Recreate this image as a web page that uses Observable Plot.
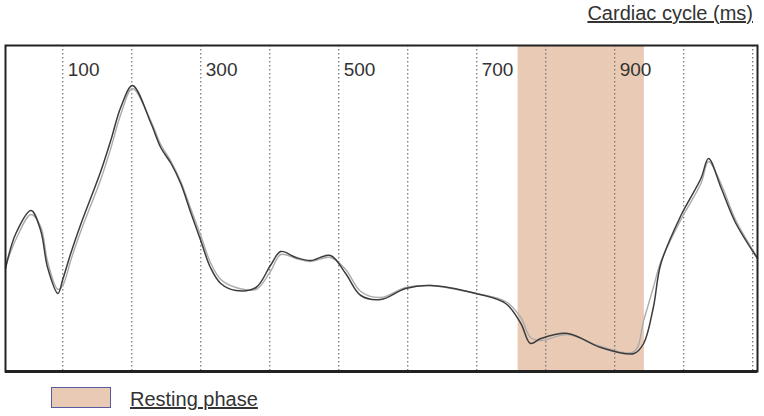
<!DOCTYPE html>
<html>
<head>
<meta charset="utf-8">
<script src="https://cdn.jsdelivr.net/npm/d3@7"></script>
<script src="https://cdn.jsdelivr.net/npm/@observablehq/plot@0.6"></script>
<style>
  html, body { margin: 0; padding: 0; background: #fff; }
  #wrap { position: relative; width: 764px; height: 416px; font-family: "Liberation Sans", Arial, sans-serif; color: #333; }
  #title { position: absolute; right: 11px; top: 2px; font-size: 20px; line-height: 23px; text-decoration: underline; white-space: nowrap; }
  #legendSwatch { position: absolute; left: 51px; top: 387px; width: 58px; height: 19px; background: #e9cab4; border: 1px solid #5a5aa0; }
  #legendLabel { position: absolute; left: 130px; top: 388px; font-size: 20px; line-height: 23px; text-decoration: underline; white-space: nowrap; }
  #chart { position: absolute; left: 0; top: 0; }
</style>
</head>
<body>
<div id="wrap">
  <div id="chart"></div>
  <div id="title">Cardiac cycle (ms)</div>
  <div id="legendSwatch"></div>
  <div id="legendLabel">Resting phase</div>
</div>
<script>
// Time within the cardiac cycle (ms)
const timeMs = [17, 32, 54, 68, 78, 93, 100, 112, 126, 155, 170, 184, 201, 228, 242, 257, 271, 286, 300, 314, 329, 351, 380, 401, 416, 438, 459, 488, 510, 532, 561, 597, 633, 699, 742, 764, 778, 793, 832, 880, 928, 942, 956, 967, 996, 1025, 1036, 1054, 1075, 1107];
// Dark trace (arbitrary units)
const darkValues = [103, 138, 161, 141, 104, 78, 92, 119, 147, 200, 232, 264, 286, 248, 224, 208, 188, 158, 131, 104, 88, 81, 84, 106, 120, 114, 111, 116, 98, 76, 72, 83, 86, 78, 68, 48, 28, 33, 38, 24, 18, 28, 64, 108, 156, 193, 213, 184, 149, 113];
// Light trace (arbitrary units)
const lightValues = [105, 132, 157, 145, 110, 82, 86, 112, 140, 192, 224, 257, 283, 250, 227, 210, 190, 162, 136, 109, 92, 84, 82, 100, 117, 113, 110, 114, 102, 80, 74, 84, 86, 78, 70, 54, 34, 31, 37, 25, 20, 51, 84, 110, 152, 188, 210, 188, 152, 114];
// Grid ticks and labels
const gridTicks = [100, 200, 300, 400, 500, 600, 700, 800, 900, 1000, 1100];
const labelTicks = [100, 300, 500, 700, 900];
// Resting phase span (ms)
const restingStart = 760;
const restingEnd = 943;

const dark = timeMs.map((t, i) => ({t, v: darkValues[i]}));
const light = timeMs.map((t, i) => ({t, v: lightValues[i]}));
const resting = [{x1: restingStart, x2: restingEnd}];

const chart = Plot.plot({
  width: 764,
  height: 416,
  marginLeft: 5,
  marginRight: 7,
  marginTop: 45,
  marginBottom: 45,
  x: {domain: [17, 1107], axis: null},
  y: {domain: [0, 326], axis: null},
  style: {fontFamily: "Liberation Sans, Arial, sans-serif", background: "transparent"},
  marks: [
    Plot.rect(resting, {x1: "x1", x2: "x2", y1: 0, y2: 326, fill: "#e9cab4"}),
    Plot.ruleX(gridTicks, {stroke: "#7a7a7a", strokeWidth: 1.3, strokeDasharray: "1.5,2.5"}),
    Plot.text(labelTicks, {x: d => d, frameAnchor: "top", dy: 17, dx: 5, textAnchor: "start", text: d => String(d), fontSize: 19, fill: "#333"}),
    Plot.line(light, {x: "t", y: "v", stroke: "#ababab", strokeWidth: 1.4, curve: "catmull-rom"}),
    Plot.line(dark, {x: "t", y: "v", stroke: "#3c3c3c", strokeWidth: 1.5, curve: "catmull-rom"}),
    Plot.frame({stroke: "#222", strokeWidth: 2}),
    Plot.ruleY([0], {stroke: "#222", strokeWidth: 3})
  ]
});
document.getElementById("chart").appendChild(chart);
</script>
</body>
</html>
